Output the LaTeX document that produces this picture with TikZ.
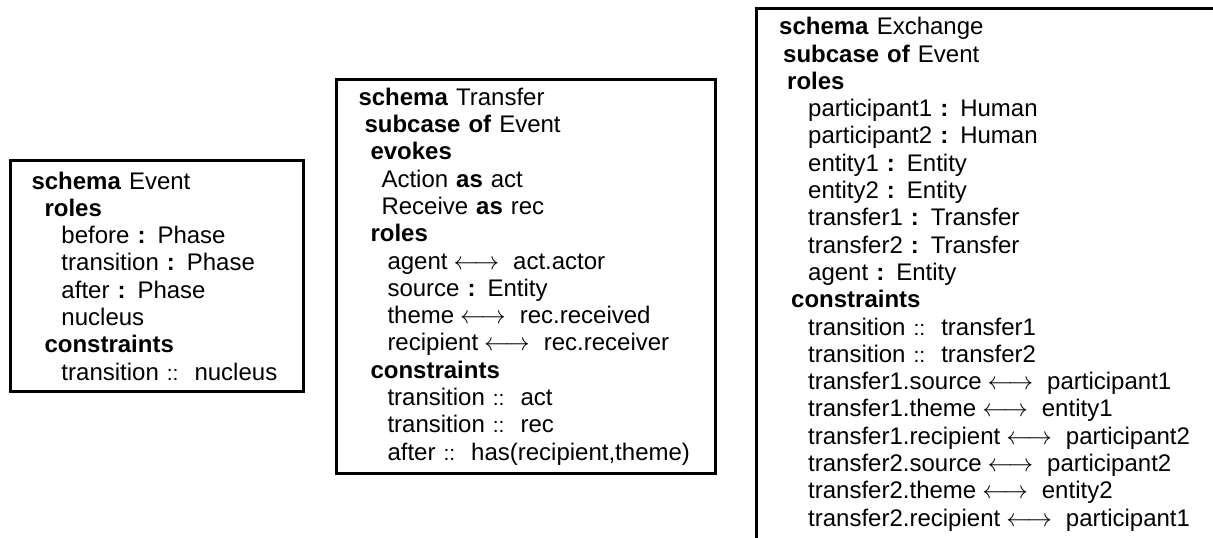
\documentclass[tikz,border=0pt]{standalone}
\usepackage{fontspec}
\setmainfont{Liberation Sans}

\newcommand{\dcol}{{\fontsize{21}{21}\selectfont ::}\ \ }
\newcommand{\lra}{\unskip\kern6pt{\fontsize{25}{25}\selectfont$\longleftrightarrow$}\kern14pt\ignorespaces}
\newcommand{\hd}[1]{\hspace*{#1pt}}

\begin{document}
\begin{tikzpicture}[x=1pt, y=-1pt,
    schemabox/.style={inner sep=0pt, anchor=north west, align=left,
      font=\fontsize{24}{27.3}\selectfont},
    border/.style={line width=3pt}]
  \useasboundingbox (0, 0) rectangle (1213, 538);

  \node[schemabox, draw, border, text width=293pt, minimum height=231pt] (event) at (9, 159) {%
    \hd{21}\textbf{schema} Event\\
    \hd{34}\textbf{roles}\\
    \hd{51}before \textbf{:} Phase\\
    \hd{51}transition \textbf{:} Phase\\
    \hd{51}after \textbf{:} Phase\\
    \hd{51}nucleus\\
    \hd{34}\textbf{constraints}\\
    \hd{51}transition \dcol nucleus};

  \node[schemabox, draw, border, text width=379pt, minimum height=394pt] (transfer) at (335, 78) {%
    \hd{22}\textbf{schema} Transfer\\
    \hd{28}\textbf{subcase of} Event\\
    \hd{34}\textbf{evokes}\\
    \hd{45}Action \textbf{as} act\\
    \hd{45}Receive \textbf{as} rec\\
    \hd{34}\textbf{roles}\\
    \hd{51}agent \lra act.actor\\
    \hd{51}source \textbf{:} Entity\\
    \hd{51}theme \lra rec.received\\
    \hd{51}recipient \lra rec.receiver\\
    \hd{34}\textbf{constraints}\\
    \hd{51}transition \dcol act\\
    \hd{51}transition \dcol rec\\
    \hd{51}after \dcol has(recipient,theme)};

  \node[schemabox, text width=470pt, minimum height=532pt] (exchange) at (756, 8) {%
    \hd{23}\textbf{schema} Exchange\\
    \hd{27}\textbf{subcase of} Event\\
    \hd{31}\textbf{roles}\\
    \hd{52}participant1 \textbf{:} Human\\
    \hd{52}participant2 \textbf{:} Human\\
    \hd{52}entity1 \textbf{:} Entity\\
    \hd{52}entity2 \textbf{:} Entity\\
    \hd{52}transfer1 \textbf{:} Transfer\\
    \hd{52}transfer2 \textbf{:} Transfer\\
    \hd{52}agent \textbf{:} Entity\\
    \hd{35}\textbf{constraints}\\
    \hd{52}transition \dcol transfer1\\
    \hd{52}transition \dcol transfer2\\
    \hd{52}transfer1.source \lra participant1\\
    \hd{52}transfer1.theme \lra entity1\\
    \hd{52}transfer1.recipient \lra participant2\\
    \hd{52}transfer2.source \lra participant2\\
    \hd{52}transfer2.theme \lra entity2\\
    \hd{52}transfer2.recipient \lra participant1};
  \draw[border] (exchange.south west) |- (exchange.north east);
\end{tikzpicture}
\end{document}
